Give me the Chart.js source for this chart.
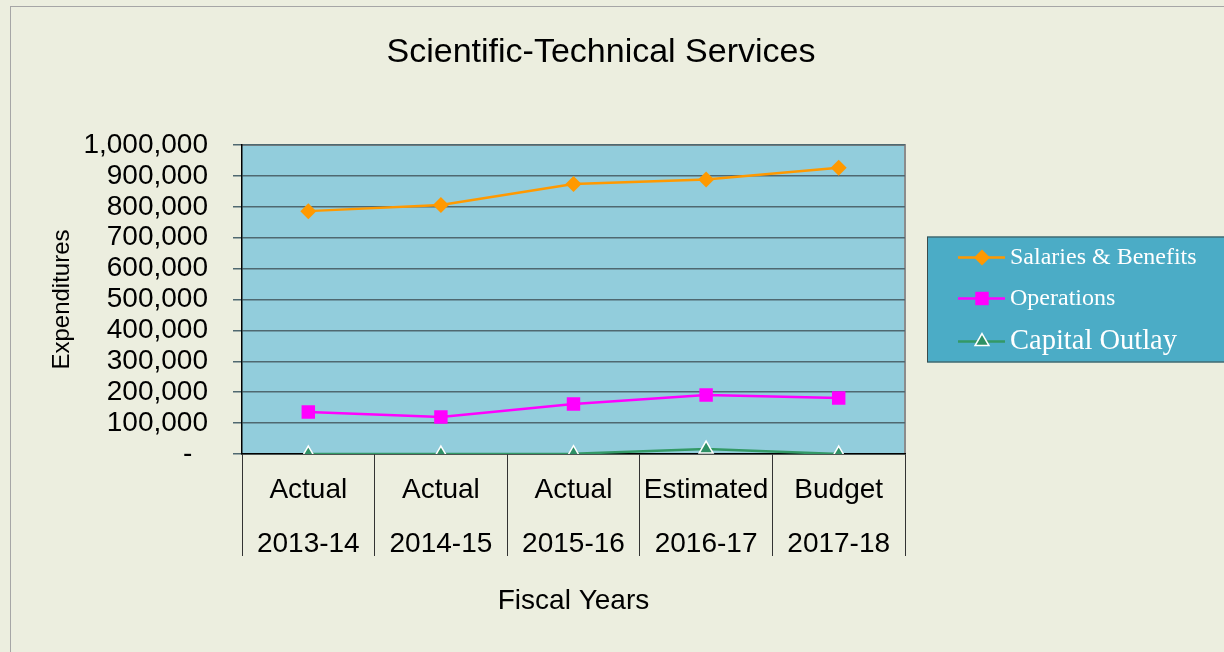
<!DOCTYPE html>
<html>
<head>
<meta charset="utf-8">
<script src="https://cdn.jsdelivr.net/npm/chart.js@4"></script>
<style>
  html, body { margin: 0; padding: 0; background: #ECEEDF; }
  #wrap { position: relative; width: 1224px; height: 652px; overflow: hidden; }
  #frame { position: absolute; left: 10px; top: 6px; right: -10px; bottom: -10px; border: 1px solid #A6A6A6; }
  canvas { position: absolute; left: 0; top: 0; }
</style>
</head>
<body>
<div id="wrap">
  <div id="frame"></div>
  <canvas id="chart" width="1224" height="652"></canvas>
</div>
<script>
// fiscal years, two lines each
const categories = [
  ['Actual', '2013-14'],
  ['Actual', '2014-15'],
  ['Actual', '2015-16'],
  ['Estimated', '2016-17'],
  ['Budget', '2017-18']
];
const salaries = [786000, 806000, 874000, 888000, 926000];
const operations = [136000, 120000, 162000, 191000, 181000];
const capitalOutlay = [0, 0, 1000, 16000, 0];
const yTicks = [0, 100000, 200000, 300000, 400000, 500000, 600000, 700000, 800000, 900000, 1000000];

const sans = 'Arial, "Liberation Sans", sans-serif';
const serif = '"Times New Roman", "Liberation Serif", serif';

// plot background + grey frame on top / right, and the title
const plotBg = {
  id: 'plotBg',
  beforeDraw(chart) {
    const { ctx, chartArea: a } = chart;
    ctx.save();
    ctx.fillStyle = '#92CDDC';
    ctx.fillRect(a.left, a.top, a.right - a.left, a.bottom - a.top);
    ctx.strokeStyle = '#8C8C8C';
    ctx.lineWidth = 2;
    ctx.beginPath();
    ctx.moveTo(a.left, a.top);
    ctx.lineTo(a.right, a.top);
    ctx.lineTo(a.right, a.bottom);
    ctx.stroke();
    ctx.restore();
  },
  afterDraw(chart) {
    const { ctx } = chart;
    ctx.save();
    ctx.fillStyle = '#000';
    ctx.font = '34px ' + sans;
    ctx.textAlign = 'center';
    ctx.textBaseline = 'middle';
    ctx.fillText('Scientific-Technical Services', 601, 53);
    ctx.restore();
  }
};

// legend box with line + marker samples
const boxLegend = {
  id: 'boxLegend',
  afterDraw(chart) {
    const { ctx, chartArea: a } = chart;
    const left = a.right + 22, top = (a.top + a.bottom) / 2 - 63;
    ctx.save();
    ctx.fillStyle = '#4BACC6';
    ctx.strokeStyle = '#3A4A4A';
    ctx.lineWidth = 1;
    ctx.fillRect(left, top, 310, 126);
    ctx.strokeRect(left + 0.5, top + 0.5, 310, 125);
    const fonts = ['24px ' + serif, '24px ' + serif, '28.5px ' + serif];
    const rows = [21, 62, 105];
    chart.data.datasets.forEach((ds, i) => {
      const y = top + rows[i];
      ctx.strokeStyle = ds.borderColor;
      ctx.lineWidth = 2.5;
      ctx.beginPath();
      ctx.moveTo(left + 31, y);
      ctx.lineTo(left + 78, y);
      ctx.stroke();
      ctx.fillStyle = ds.pointBackgroundColor;
      ctx.strokeStyle = ds.pointBorderColor;
      ctx.lineWidth = ds.pointBorderWidth;
      Chart.helpers.drawPoint(ctx, {
        pointStyle: ds.pointStyle, radius: ds.pointRadius, rotation: 0,
        borderWidth: ds.pointBorderWidth
      }, left + 55, y);
      ctx.fillStyle = '#fff';
      ctx.font = fonts[i];
      ctx.textAlign = 'left';
      ctx.textBaseline = 'middle';
      ctx.fillText(ds.label, left + 83, y);
    });
    ctx.restore();
  }
};

new Chart(document.getElementById('chart'), {
  type: 'line',
  data: {
    labels: categories,
    datasets: [
      {
        label: 'Salaries & Benefits',
        data: salaries,
        borderColor: '#FF9900',
        backgroundColor: '#FF9900',
        borderWidth: 2.5,
        pointStyle: 'rectRot',
        pointRadius: 8,
        pointBackgroundColor: '#FF9900',
        pointBorderColor: '#FF9900',
        pointBorderWidth: 0
      },
      {
        label: 'Operations',
        data: operations,
        borderColor: '#FF00FF',
        backgroundColor: '#FF00FF',
        borderWidth: 2.5,
        pointStyle: 'rect',
        pointRadius: 9.5,
        pointBackgroundColor: '#FF00FF',
        pointBorderColor: '#FF00FF',
        pointBorderWidth: 0
      },
      {
        label: 'Capital Outlay',
        data: capitalOutlay,
        borderColor: '#339966',
        backgroundColor: '#339966',
        borderWidth: 2.5,
        pointStyle: 'triangle',
        pointRadius: 8,
        pointBackgroundColor: '#2E9065',
        pointBorderColor: '#FFFFFF',
        pointBorderWidth: 1.5
      }
    ]
  },
  options: {
    responsive: false,
    animation: false,
    layout: { padding: { left: 44, top: 145, right: 319, bottom: 30 } },
    plugins: {
      legend: { display: false },
      title: { display: false },
      tooltip: { enabled: false }
    },
    scales: {
      x: {
        type: 'category',
        offset: true,
        afterFit(scale) { scale.height = 168; },
        border: { color: '#000', width: 1.5 },
        grid: { offset: true, drawOnChartArea: false, tickLength: 102, color: '#333' },
        ticks: {
          color: '#000', padding: -92, maxRotation: 0, autoSkip: false,
          font: { family: sans, size: 28, lineHeight: 1.9 }
        },
        title: { display: true, text: 'Fiscal Years', color: '#000', font: { family: sans, size: 28 } }
      },
      y: {
        min: 0,
        max: 1000000,
        afterFit(scale) { scale.width = 198; },
        afterBuildTicks(scale) { scale.ticks = yTicks.map(v => ({ value: v })); },
        border: { color: '#000', width: 1.5 },
        grid: { color: '#4F6870', lineWidth: 1.5, tickLength: 9 },
        ticks: {
          color: '#000', padding: 25, autoSkip: false,
          font: { family: sans, size: 28 },
          callback: v => v === 0 ? '-  ' : v.toLocaleString('en-US')
        },
        title: { display: true, text: 'Expenditures', color: '#000', font: { family: sans, size: 24 } }
      }
    }
  },
  plugins: [plotBg, boxLegend]
});
</script>
</body>
</html>
